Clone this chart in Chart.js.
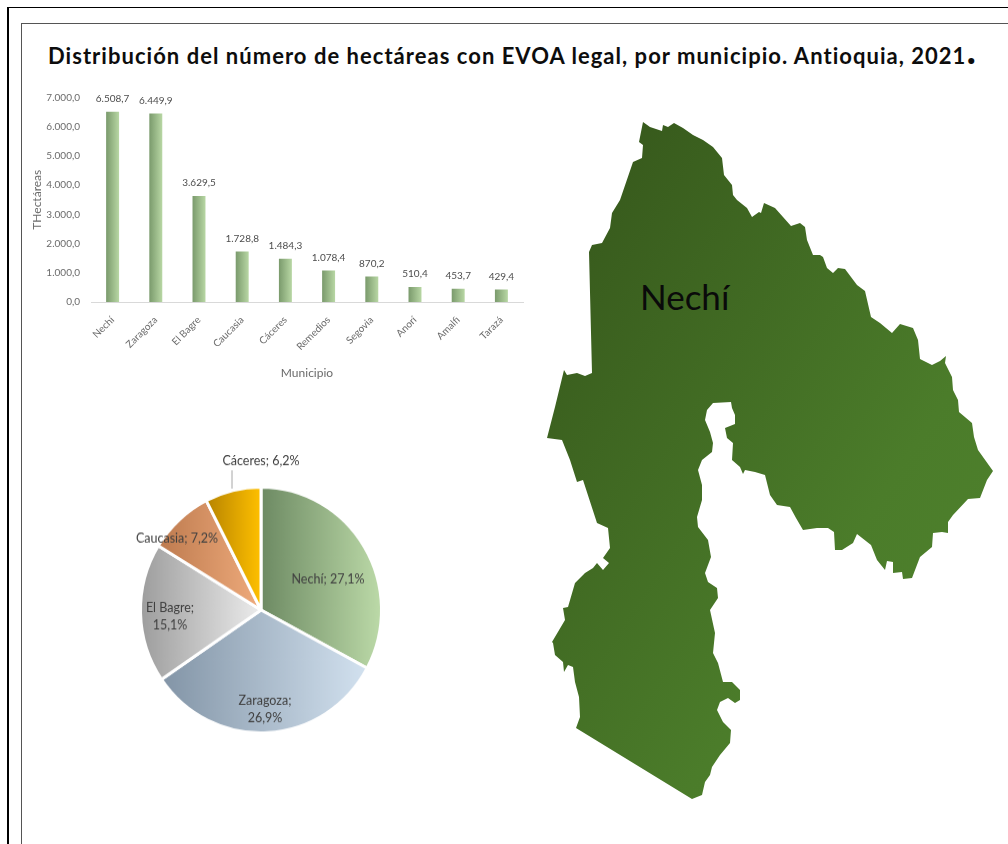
<!DOCTYPE html>
<html>
<head>
<meta charset="utf-8">
<title>EVOA legal por municipio</title>
<script src="https://cdn.jsdelivr.net/npm/chart.js@4"></script>
<style>
    html, body { margin: 0; padding: 0; background: #fff; overflow: hidden; }
    body { width: 1008px; height: 844px; position: relative; font-family: Lato, sans-serif; }
    .frame-outer { position: absolute; left: 7px; top: 7px; width: 1001px; height: 837px; border-left: 2px solid #000; border-top: 1.5px solid #000; }
    .frame-inner { position: absolute; left: 21px; top: 23px; width: 987px; height: 821px; border-left: 1.5px solid #555; border-top: 1.5px solid #555; }
    #title { position: absolute; left: 48px; top: 42px; font-weight: 700; font-size: 22px; letter-spacing: 1.03px; color: #0d0d0d; white-space: nowrap; }
    #title .dot { font-size: 40px; line-height: 10px; }
    #barWrap { position: absolute; left: 22px; top: 85px; width: 510px; height: 300px; }
    #pieWrap { position: absolute; left: 111px; top: 450px; width: 300px; height: 320px; transform: scaleY(1.02); }
    canvas { filter: blur(0.35px); }
    #map { position: absolute; left: 0; top: 0; }
    #map path { filter: blur(0.4px); }
</style>
</head>
<body>
<div class="frame-outer"></div>
<div class="frame-inner"></div>
<div id="title">Distribución del número de hectáreas con EVOA legal, por municipio. Antioquia, 2021<span class="dot">.</span></div>

<svg id="map" width="1008" height="844" viewBox="0 0 1008 844">
    <defs>
        <linearGradient id="mapFill" x1="0" y1="0" x2="1" y2="1">
            <stop offset="0" stop-color="#34541a"/>
            <stop offset="0.65" stop-color="#4b7c2a"/>
            <stop offset="1" stop-color="#50842e"/>
        </linearGradient>
    </defs>
    <path fill="url(#mapFill)" stroke-linejoin="round" d="M643 122 L650 127 662 131 663 125 668 127 674 123 683 128 693 135 703 140 713 147 722 158 724 175 732 185 733 195 737 200 747 208 752 217 759 212 761 213 764 203 775 208 783 217 791 226 800 223 805 227 807 240 813 255 820 255 823 257 827 268 833 273 838 268 845 269 857 285 865 291 871 317 880 323 892 333 900 324 913 328 918 340 920 359 932 365 940 361 946 356 945 363 952 377 953 390 958 400 959 412 972 423 974 437 978 450 993 471 987 480 980 498 968 499 953 515 948 522 948 533 942 532 933 533 932 547 920 557 912 578 903 579 902 572 893 573 893 562 887 561 885 570 877 560 871 545 857 534 853 543 842 550 835 550 834 532 828 528 817 528 803 530 796 518 790 507 777 505 770 495 765 475 755 472 745 470 743 474 740 467 732 460 733 443 727 438 725 428 735 424 735 415 732 408 731 402 713 403 707 410 705 420 710 432 713 443 712 452 702 460 698 470 702 485 702 500 697 517 698 527 708 540 711 557 705 573 708 582 717 588 718 598 710 610 715 633 713 653 718 663 723 682 732 682 740 690 740 700 735 703 728 698 720 702 717 710 723 722 731 730 730 743 720 755 712 767 710 775 705 782 702 795 692 799 576 728 580 717 579 697 575 682 573 667 568 665 564 672 563 662 555 655 553 643 552 642 565 620 563 608 568 607 575 583 585 573 593 568 597 563 603 570 609 563 603 558 610 548 608 528 597 523 583 480 577 482 570 460 562 440 547 438 555 407 564 370 567 375 577 373 585 376 592 373 589 252 592 245 602 243 610 228 612 213 620 200 633 162 642 158 643 145 639 142 Z"/>
    <text x="640" y="310" font-family="Lato, sans-serif" font-size="35" fill="#0a0a0a">Nechí</text>
</svg>

<div id="barWrap"><canvas id="barChart" width="510" height="300"></canvas></div>
<div id="pieWrap"><canvas id="pieChart" width="300" height="320"></canvas></div>

<script>
const municipios = ['Nechí', 'Zaragoza', 'El Bagre', 'Caucasia', 'Cáceres', 'Remedios', 'Segovia', 'Anorí', 'Amalfi', 'Tarazá'];
const hectareas = [6508.7, 6449.9, 3629.5, 1728.8, 1484.3, 1078.4, 870.2, 510.4, 453.7, 429.4];

const pieLabels = ['Nechí', 'Zaragoza', 'El Bagre', 'Caucasia', 'Cáceres'];
const pieValues = [27.1, 26.9, 15.1, 7.2, 6.2];

// dark / light end of the gradient of each slice
const pieDark = ['#6d8a63', '#8294a6', '#9c9c9c', '#bd7a4e', '#b68300'];
const pieLight = ['#bddba9', '#d3e2f0', '#ececec', '#efab7c', '#ffc000'];

// where the labels were placed by hand, relative to the pie centre
const pieLabelLines = [['Nechí; 27,1%'], ['Zaragoza;', '26,9%'], ['El Bagre;', '15,1%'], ['Caucasia; 7,2%'], ['Cáceres; 6,2%']];
const pieLabelOffset = [[67, -30], [4, 97], [-91, 6], [-84, -70], [0, -146]];

// 6508.7 -> 6.508,7
function formatNumber(value) {
    const parts = value.toFixed(1).split('.');
    return parts[0].replace(/\B(?=(\d{3})+$)/g, '.') + ',' + parts[1];
}

function barGradient(context) {
    const chart = context.chart;
    if (!chart.chartArea) return '#9dbb8a';
    const x = chart.scales.x.getPixelForValue(context.dataIndex);
    const g = chart.ctx.createLinearGradient(x - 6.5, 0, x + 6.5, 0);
    g.addColorStop(0, '#7a9a6c');
    g.addColorStop(1, '#b8d7a4');
    return g;
}

function sliceGradient(context) {
    const chart = context.chart;
    if (!chart.chartArea) return pieLight[context.dataIndex];
    const area = chart.chartArea;
    const cx = (area.left + area.right) / 2;
    const r = Math.min(area.width, area.height) / 2;
    const total = pieValues.reduce((a, b) => a + b, 0);
    let start = 0;
    for (let i = 0; i < context.dataIndex; i++) start += pieValues[i] / total;
    const end = start + pieValues[context.dataIndex] / total;
    // horizontal extent of the slice, going round its edge
    let minX = cx, maxX = cx;
    for (let t = start; t <= end; t += 0.005) {
        const px = cx + r * Math.sin(t * 2 * Math.PI);
        minX = Math.min(minX, px);
        maxX = Math.max(maxX, px);
    }
    const g = chart.ctx.createLinearGradient(minX, 0, maxX, 0);
    g.addColorStop(0, pieDark[context.dataIndex]);
    g.addColorStop(1, pieLight[context.dataIndex]);
    return g;
}

const barValueLabels = {
    id: 'barValueLabels',
    afterDatasetsDraw(chart) {
        const ctx = chart.ctx;
        ctx.save();
        ctx.font = '10px Lato, sans-serif';
        ctx.fillStyle = '#4d4d4d';
        ctx.textAlign = 'center';
        ctx.textBaseline = 'bottom';
        chart.getDatasetMeta(0).data.forEach((bar, i) => {
            ctx.fillText(formatNumber(hectareas[i]), bar.x, bar.y - 8);
        });
        ctx.restore();
    }
};

const pieValueLabels = {
    id: 'pieValueLabels',
    afterDatasetsDraw(chart) {
        const ctx = chart.ctx;
        const arc = chart.getDatasetMeta(0).data[0];
        ctx.save();
        ctx.font = '12.5px Lato, sans-serif';
        ctx.fillStyle = '#404040';
        ctx.textAlign = 'center';
        ctx.textBaseline = 'middle';
        pieLabelLines.forEach((lines, i) => {
            const x = arc.x + pieLabelOffset[i][0];
            const y = arc.y + pieLabelOffset[i][1];
            lines.forEach((line, n) => {
                ctx.fillText(line, x, y + (n - (lines.length - 1) / 2) * 17);
            });
        });
        // leader line of Cáceres
        ctx.strokeStyle = '#a6a6a6';
        ctx.lineWidth = 1;
        ctx.beginPath();
        ctx.moveTo(arc.x - 29, arc.y - 137);
        ctx.lineTo(arc.x - 29, arc.y - 119);
        ctx.stroke();
        ctx.restore();
    }
};

new Chart(document.getElementById('barChart'), {
    type: 'bar',
    data: {
        labels: municipios,
        datasets: [{
            data: hectareas,
            backgroundColor: barGradient,
            barPercentage: 0.3,
            categoryPercentage: 1
        }]
    },
    options: {
        responsive: false,
        animation: false,
        layout: { padding: { top: 12.5, right: 9 } },
        plugins: { legend: { display: false }, tooltip: { enabled: false } },
        scales: {
            x: {
                grid: { display: false },
                border: { color: '#d9d9d9' },
                ticks: { color: '#6b6b6b', font: { family: 'Lato', size: 10 }, minRotation: 45, maxRotation: 45, padding: 4 },
                title: { display: true, text: 'Municipio', color: '#6b6b6b', font: { family: 'Lato', size: 12 }, padding: { top: 6, bottom: 5 } },
                afterFit: scale => { scale.height = 83; }
            },
            y: {
                min: 0,
                max: 7000,
                grid: { display: false, drawTicks: false },
                border: { display: false },
                ticks: { stepSize: 1000, color: '#6b6b6b', font: { family: 'Lato', size: 10 }, padding: 11, callback: value => formatNumber(value) },
                title: { display: true, text: 'THectáreas', color: '#6b6b6b', font: { family: 'Lato', size: 12 }, padding: { top: 8, bottom: 0 } },
                afterFit: scale => {
                    scale.width = 69;
                    // tick padding would otherwise push the plot area down
                    scale.paddingTop = 0;
                    scale.paddingBottom = 0;
                }
            }
        }
    },
    plugins: [barValueLabels]
});

new Chart(document.getElementById('pieChart'), {
    type: 'pie',
    data: {
        labels: pieLabels,
        datasets: [{
            data: pieValues,
            backgroundColor: sliceGradient,
            borderColor: '#ffffff',
            borderWidth: 3
        }]
    },
    options: {
        responsive: false,
        animation: false,
        layout: { padding: { left: 28, right: 28, top: 38, bottom: 38 } },
        plugins: { legend: { display: false }, tooltip: { enabled: false } }
    },
    plugins: [pieValueLabels]
});
</script>
</body>
</html>
